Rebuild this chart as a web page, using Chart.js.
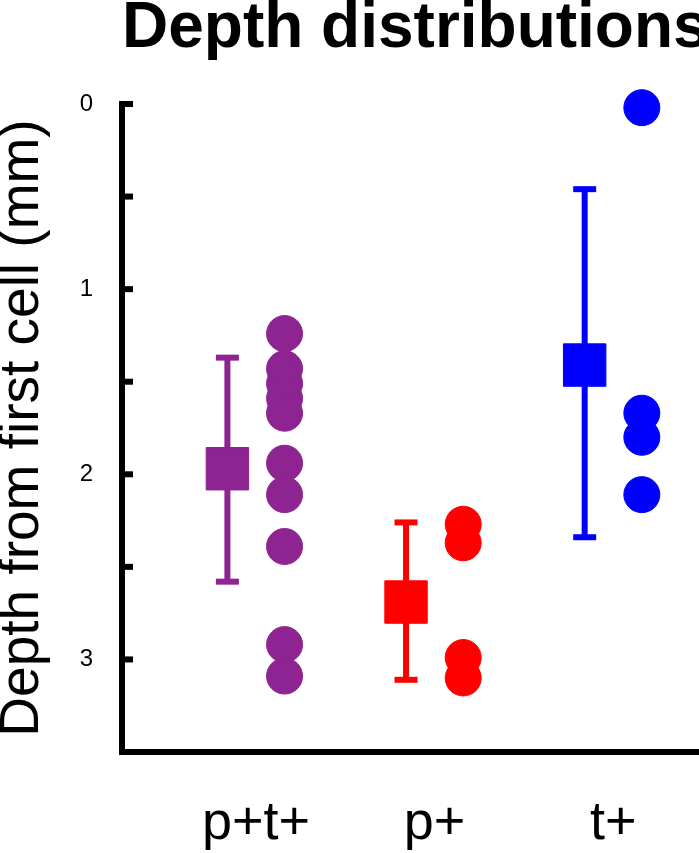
<!DOCTYPE html>
<html lang="en">
<head>
  <meta charset="UTF-8">
  <title>Depth distributions</title>
  <script src="https://cdn.jsdelivr.net/npm/chart.js"></script>
  <style>
    html, body { margin: 0; padding: 0; background: #fff; overflow: hidden; }
    #wrap { width: 699px; height: 853px; }
  </style>
</head>
<body>
  <div id="wrap"><canvas id="depthChart" width="699" height="853"></canvas></div>

  <script>
    // data (depth in mm, 0 at top)
    const chartTitle = 'Depth distributions';
    const groups = ['p+t+', 'p+', 't+'];
    const groupColors = ['#8e2491', '#ff0000', '#0000ff'];
    const groupMeans = [1.97, 2.69, 1.41];
    const errLower = [1.37, 2.26, 0.46];
    const errUpper = [2.58, 3.11, 2.34];
    const depthsPT = [1.24, 1.43, 1.51, 1.59, 1.67, 1.94, 2.11, 2.39, 2.92, 3.09];
    const depthsP = [2.27, 2.37, 2.99, 3.10];
    const depthsT = [0.02, 1.67, 1.80, 2.11];
    const yTicks = [0, 0.5, 1, 1.5, 2, 2.5, 3, 3.5];

    const groupDepths = [depthsPT, depthsP, depthsT];
    const OFFSET = 0.16; // mean sits left of the group centre, cells to the right

    Chart.defaults.font.family = '"Liberation Sans", Arial, sans-serif';
    Chart.defaults.color = '#000';

    const datasets = [];

    // mean squares (first = drawn on top)
    datasets.push({
      data: groups.map((g, i) => ({ x: i + 1 - OFFSET, y: groupMeans[i] })),
      pointStyle: 'rect',
      pointRadius: 30,
      pointHoverRadius: 30,
      pointBackgroundColor: groupColors,
      pointBorderColor: groupColors,
      pointBorderWidth: 1,
      clip: false
    });

    // error bars with caps
    groups.forEach((g, i) => {
      datasets.push({
        showLine: true,
        data: [{ x: i + 1 - OFFSET, y: errLower[i] }, { x: i + 1 - OFFSET, y: errUpper[i] }],
        borderColor: groupColors[i],
        borderWidth: 6,
        pointStyle: 'line',
        pointRadius: 11.5,
        pointHoverRadius: 11.5,
        pointBorderColor: groupColors[i],
        pointBorderWidth: 6,
        clip: false
      });
    });

    // individual cells
    groups.forEach((g, i) => {
      datasets.push({
        data: groupDepths[i].map(d => ({ x: i + 1 + OFFSET, y: d })),
        pointStyle: 'circle',
        pointRadius: 18,
        pointHoverRadius: 18,
        pointBackgroundColor: groupColors[i],
        pointBorderColor: groupColors[i],
        pointBorderWidth: 1,
        clip: false
      });
    });

    const innerTicks = {
      id: 'innerTicks',
      afterDraw(chart) {
        const ctx = chart.ctx;
        const y = chart.scales.y;
        const left = chart.chartArea.left;
        ctx.save();
        ctx.strokeStyle = '#000';
        ctx.lineWidth = 6;
        yTicks.forEach(v => {
          const py = y.getPixelForValue(v);
          ctx.beginPath();
          ctx.moveTo(left - 3, py);
          ctx.lineTo(left + 11, py);
          ctx.stroke();
        });
        ctx.restore();
      }
    };

    const titleText = {
      id: 'titleText',
      afterDraw(chart) {
        const ctx = chart.ctx;
        ctx.save();
        ctx.fillStyle = '#000';
        ctx.font = 'bold 64px "Liberation Sans", Arial, sans-serif';
        ctx.textAlign = 'left';
        ctx.textBaseline = 'alphabetic';
        ctx.fillText(chartTitle, chart.chartArea.left, 47);
        ctx.restore();
      }
    };

    new Chart(document.getElementById('depthChart'), {
      type: 'scatter',
      data: { datasets },
      options: {
        responsive: false,
        animation: false,
        layout: { autoPadding: false, padding: { top: 104, left: 0, right: 0, bottom: 0 } },
        plugins: {
          legend: { display: false },
          tooltip: { enabled: false }
        },
        scales: {
          x: {
            type: 'linear',
            min: 0.25,
            max: 3.48,
            afterBuildTicks: s => { s.ticks = groups.map((g, i) => ({ value: i + 1 })); },
            afterFit: s => { s.height = 101; },
            ticks: {
              callback: (v, i) => groups[i],
              font: { size: 54 },
              padding: 40,
              maxRotation: 0,
              autoSkip: false
            },
            grid: { drawOnChartArea: false, drawTicks: false },
            border: { display: true, width: 6, color: '#000' }
          },
          y: {
            type: 'linear',
            reverse: true,
            min: 0,
            max: 3.5,
            afterBuildTicks: s => { s.ticks = yTicks.map(v => ({ value: v })); },
            afterFit: s => { s.width = 122; },
            ticks: {
              callback: v => Number.isInteger(v) ? String(v) : '',
              font: { size: 24 },
              padding: 29
            },
            title: {
              display: true,
              text: 'Depth from first cell (mm)',
              font: { size: 55, lineHeight: 0.84 },
              padding: 0
            },
            grid: { drawOnChartArea: false, drawTicks: false },
            border: { display: true, width: 6, color: '#000' }
          }
        }
      },
      plugins: [innerTicks, titleText]
    });
  </script>
</body>
</html>
